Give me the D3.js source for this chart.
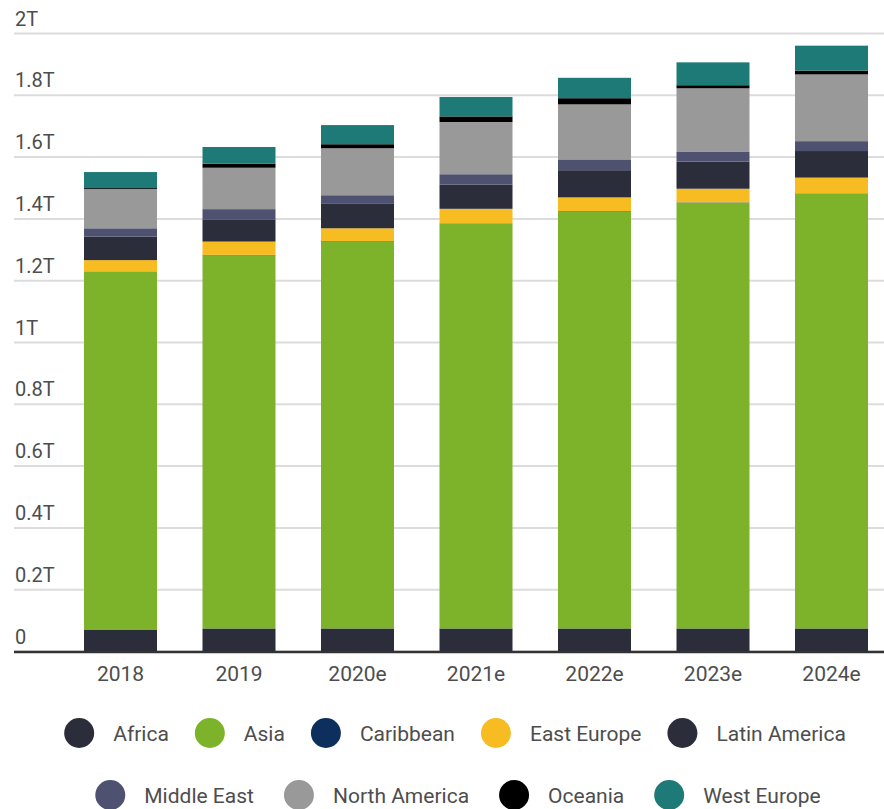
<!DOCTYPE html>
<html>
<head>
<meta charset="utf-8">
<script src="https://cdn.jsdelivr.net/npm/d3@7/dist/d3.min.js"></script>
<style>
  html, body { margin: 0; padding: 0; background: #fff; }
  svg { display: block; }
  text { font-family: Roboto, "Open Sans", sans-serif; fill: #4d4d4d; }
</style>
</head>
<body>
<svg id="chart" width="884" height="809"></svg>
<script>
// ---- data (values in trillions) ----
const years = ["2018", "2019", "2020e", "2021e", "2022e", "2023e", "2024e"];
const regions = ["Africa", "Asia", "Caribbean", "East Europe", "Latin America", "Middle East", "North America", "Oceania", "West Europe"];
const africa       = [0.068, 0.073, 0.073, 0.073, 0.073, 0.073, 0.073];
const asia         = [1.159, 1.208, 1.253, 1.310, 1.350, 1.378, 1.407];
const caribbean    = [0.001, 0.001, 0.001, 0.001, 0.001, 0.001, 0.001];
const eastEurope   = [0.037, 0.043, 0.041, 0.047, 0.044, 0.044, 0.051];
const latinAmerica = [0.076, 0.072, 0.079, 0.078, 0.088, 0.088, 0.086];
const middleEast   = [0.027, 0.033, 0.028, 0.034, 0.035, 0.031, 0.032];
const northAmerica = [0.127, 0.134, 0.152, 0.169, 0.178, 0.206, 0.216];
const oceania      = [0.003, 0.013, 0.013, 0.018, 0.020, 0.010, 0.012];
const westEurope   = [0.052, 0.054, 0.062, 0.063, 0.066, 0.074, 0.081];
const tickValues = [0, 0.2, 0.4, 0.6, 0.8, 1, 1.2, 1.4, 1.6, 1.8, 2];
const tickLabels = ["0", "0.2T", "0.4T", "0.6T", "0.8T", "1T", "1.2T", "1.4T", "1.6T", "1.8T", "2T"];
const colors = ["#2b2d3a", "#7cb32b", "#0d2f5e", "#f7bc21", "#2b2d3a", "#4e5270", "#999999", "#000000", "#1e7a76"];

const seriesValues = [africa, asia, caribbean, eastEurope, latinAmerica, middleEast, northAmerica, oceania, westEurope];
const table = years.map((y, i) => {
  const row = { year: y };
  regions.forEach((r, k) => row[r] = seriesValues[k][i]);
  return row;
});

const svg = d3.select("#chart");
const W = 884;
const x = d3.scaleBand().domain(years).range([61.25, 890.75]).paddingInner(0.384).paddingOuter(0.192);
const y = d3.scaleLinear().domain([0, 2]).range([651, 33]);
const color = d3.scaleOrdinal().domain(regions).range(colors);

// gridlines + tick labels
const yAxis = d3.axisLeft(y).tickValues(tickValues).tickFormat((d, i) => tickLabels[i]).tickSize(-(W - 14)).tickPadding(0);
const gy = svg.append("g").attr("transform", "translate(14,0)").call(yAxis);
gy.select(".domain").remove();
gy.selectAll(".tick line").attr("stroke", "#dcdcdc").attr("stroke-width", 2);
gy.selectAll(".tick text")
  .attr("x", 1).attr("dy", -8).attr("y", 0)
  .attr("text-anchor", "start")
  .style("font-size", "20px").style("fill", "#4d4d4d");

// stacked bars
const stack = d3.stack().keys(regions)(table);
svg.append("g").selectAll("g").data(stack).join("g")
  .attr("fill", d => color(d.key))
  .selectAll("rect").data(d => d).join("rect")
  .attr("x", d => x(d.data.year))
  .attr("width", x.bandwidth())
  .attr("y", d => y(d[1]))
  .attr("height", d => y(d[0]) - y(d[1]));

// baseline
svg.append("line").attr("x1", 14).attr("x2", W).attr("y1", y(0) + 1).attr("y2", y(0) + 1)
  .attr("stroke", "#333").attr("stroke-width", 2.5);

// x axis labels
const xAxis = d3.axisBottom(x).tickSize(0).tickPadding(0);
const gx = svg.append("g").attr("transform", `translate(0,${y(0)})`).call(xAxis);
gx.select(".domain").remove();
gx.selectAll(".tick text").attr("y", 30).attr("dy", 0)
  .style("font-size", "21px").style("fill", "#4d4d4d");

// legend
const rowsItems = [regions.slice(0, 5), regions.slice(5)];
const rowY = [733, 795];
const r = 15, textGap = 19, itemGap = 26;
const rowCenter = [455, 458];
const rowGap = [26, 30];
rowsItems.forEach((items, ri) => {
  const g = svg.append("g");
  const its = items.map(name => {
    const t = g.append("text").text(name).style("font-size", "21px").attr("dominant-baseline", "central");
    return { name, t, w: t.node().getComputedTextLength() };
  });
  const total = d3.sum(its, d => 2 * r + textGap + d.w) + rowGap[ri] * (its.length - 1);
  let cx = rowCenter[ri] - total / 2;
  its.forEach(it => {
    g.append("circle").attr("cx", cx + r).attr("cy", rowY[ri]).attr("r", r).attr("fill", color(it.name));
    it.t.attr("x", cx + 2 * r + textGap).attr("y", rowY[ri] + 1);
    cx += 2 * r + textGap + it.w + rowGap[ri];
  });
});
</script>
</body>
</html>
